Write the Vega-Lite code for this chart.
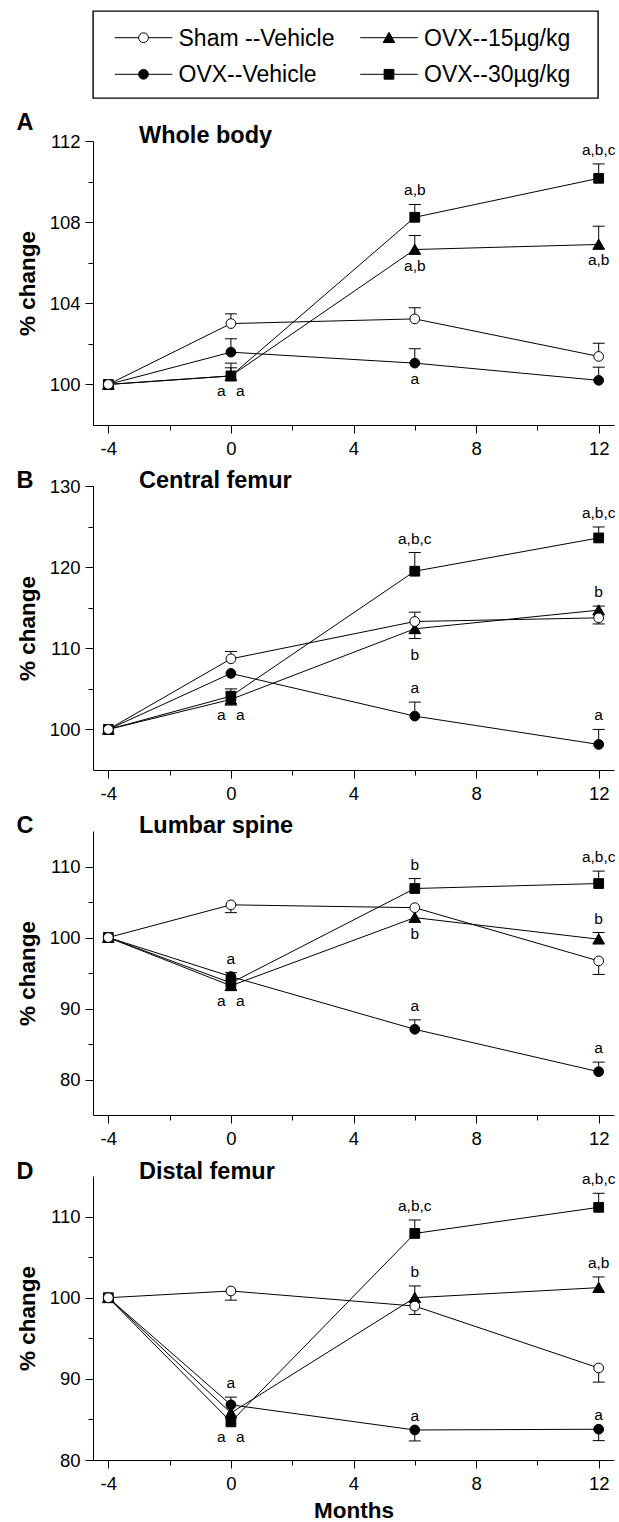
{
  "$schema": "https://vega.github.io/schema/vega-lite/v6.json",
  "padding": {"left": 16, "top": 10, "right": 0, "bottom": 0},
  "bounds": "flush",
  "spacing": 43,
  "config": {
    "font": "Liberation Sans",
    "view": {"stroke": null},
    "axis": {"grid": false, "domainColor": "black", "domainWidth": 1, "tickColor": "black", "tickWidth": 1, "labelColor": "black", "labelFont": "Liberation Sans", "labelFontSize": 18.5, "titleColor": "black", "titleFont": "Liberation Sans", "titleFontSize": 22.5, "titleFontWeight": "bold", "labelFlush": false, "labelOverlap": false},
    "axisY": {"labelPadding": 5, "titlePadding": 10},
    "axisX": {"labelPadding": 6, "titlePadding": 7, "labelAngle": 0},
    "text": {"font": "Liberation Sans", "color": "black"}
  },
  "datasets": {
    "series": [
      {"panel": "A", "group": "OVX--Vehicle", "month": -4, "value": 100},
      {"panel": "A", "group": "OVX--Vehicle", "month": 0, "value": 101.59, "err": 102.25},
      {"panel": "A", "group": "OVX--Vehicle", "month": 6, "value": 101.05, "err": 101.76},
      {"panel": "A", "group": "OVX--Vehicle", "month": 12, "value": 100.2, "err": 100.85},
      {"panel": "A", "group": "OVX--15µg/kg", "month": -4, "value": 100},
      {"panel": "A", "group": "OVX--15µg/kg", "month": 0, "value": 100.42, "err": 101.05},
      {"panel": "A", "group": "OVX--15µg/kg", "month": 6, "value": 106.65, "err": 107.34},
      {"panel": "A", "group": "OVX--15µg/kg", "month": 12, "value": 106.9, "err": 107.8},
      {"panel": "A", "group": "OVX--30µg/kg", "month": -4, "value": 100},
      {"panel": "A", "group": "OVX--30µg/kg", "month": 0, "value": 100.42, "err": 100.82},
      {"panel": "A", "group": "OVX--30µg/kg", "month": 6, "value": 108.24, "err": 108.87},
      {"panel": "A", "group": "OVX--30µg/kg", "month": 12, "value": 110.16, "err": 110.87},
      {"panel": "A", "group": "Sham --Vehicle", "month": -4, "value": 100},
      {"panel": "A", "group": "Sham --Vehicle", "month": 0, "value": 103.0, "err": 103.48},
      {"panel": "A", "group": "Sham --Vehicle", "month": 6, "value": 103.23, "err": 103.78},
      {"panel": "A", "group": "Sham --Vehicle", "month": 12, "value": 101.38, "err": 102.03},

      {"panel": "B", "group": "OVX--Vehicle", "month": -4, "value": 100},
      {"panel": "B", "group": "OVX--Vehicle", "month": 0, "value": 106.9},
      {"panel": "B", "group": "OVX--Vehicle", "month": 6, "value": 101.64, "err": 103.37},
      {"panel": "B", "group": "OVX--Vehicle", "month": 12, "value": 98.15, "err": 100.0},
      {"panel": "B", "group": "OVX--15µg/kg", "month": -4, "value": 100},
      {"panel": "B", "group": "OVX--15µg/kg", "month": 0, "value": 103.7, "err": 103.0},
      {"panel": "B", "group": "OVX--15µg/kg", "month": 6, "value": 112.4, "err": 111.2},
      {"panel": "B", "group": "OVX--15µg/kg", "month": 12, "value": 114.7, "err": 115.2},
      {"panel": "B", "group": "OVX--30µg/kg", "month": -4, "value": 100},
      {"panel": "B", "group": "OVX--30µg/kg", "month": 0, "value": 104.1, "err": 105.0},
      {"panel": "B", "group": "OVX--30µg/kg", "month": 6, "value": 119.5, "err": 121.8},
      {"panel": "B", "group": "OVX--30µg/kg", "month": 12, "value": 123.6, "err": 124.95},
      {"panel": "B", "group": "Sham --Vehicle", "month": -4, "value": 100},
      {"panel": "B", "group": "Sham --Vehicle", "month": 0, "value": 108.7, "err": 109.6},
      {"panel": "B", "group": "Sham --Vehicle", "month": 6, "value": 113.3, "err": 114.45},
      {"panel": "B", "group": "Sham --Vehicle", "month": 12, "value": 113.75, "err": 113.0},

      {"panel": "C", "group": "OVX--Vehicle", "month": -4, "value": 100},
      {"panel": "C", "group": "OVX--Vehicle", "month": 0, "value": 94.5, "err": 95.05},
      {"panel": "C", "group": "OVX--Vehicle", "month": 6, "value": 87.07, "err": 88.4},
      {"panel": "C", "group": "OVX--Vehicle", "month": 12, "value": 81.1, "err": 82.45},
      {"panel": "C", "group": "OVX--15µg/kg", "month": -4, "value": 100},
      {"panel": "C", "group": "OVX--15µg/kg", "month": 0, "value": 93.2, "err": 92.6},
      {"panel": "C", "group": "OVX--15µg/kg", "month": 6, "value": 102.8},
      {"panel": "C", "group": "OVX--15µg/kg", "month": 12, "value": 99.76, "err": 100.7},
      {"panel": "C", "group": "OVX--30µg/kg", "month": -4, "value": 100},
      {"panel": "C", "group": "OVX--30µg/kg", "month": 0, "value": 93.6},
      {"panel": "C", "group": "OVX--30µg/kg", "month": 6, "value": 106.9, "err": 108.3},
      {"panel": "C", "group": "OVX--30µg/kg", "month": 12, "value": 107.6, "err": 109.35},
      {"panel": "C", "group": "Sham --Vehicle", "month": -4, "value": 100},
      {"panel": "C", "group": "Sham --Vehicle", "month": 0, "value": 104.6, "err": 103.5},
      {"panel": "C", "group": "Sham --Vehicle", "month": 6, "value": 104.2},
      {"panel": "C", "group": "Sham --Vehicle", "month": 12, "value": 96.7, "err": 94.8},

      {"panel": "D", "group": "OVX--Vehicle", "month": -4, "value": 100},
      {"panel": "D", "group": "OVX--Vehicle", "month": 0, "value": 86.8, "err": 87.75},
      {"panel": "D", "group": "OVX--Vehicle", "month": 6, "value": 83.7, "err": 82.35},
      {"panel": "D", "group": "OVX--Vehicle", "month": 12, "value": 83.79, "err": 82.39},
      {"panel": "D", "group": "OVX--15µg/kg", "month": -4, "value": 100},
      {"panel": "D", "group": "OVX--15µg/kg", "month": 0, "value": 85.8},
      {"panel": "D", "group": "OVX--15µg/kg", "month": 6, "value": 100.0, "err": 101.45},
      {"panel": "D", "group": "OVX--15µg/kg", "month": 12, "value": 101.24, "err": 102.56},
      {"panel": "D", "group": "OVX--30µg/kg", "month": -4, "value": 100},
      {"panel": "D", "group": "OVX--30µg/kg", "month": 0, "value": 84.7},
      {"panel": "D", "group": "OVX--30µg/kg", "month": 6, "value": 107.92, "err": 109.58},
      {"panel": "D", "group": "OVX--30µg/kg", "month": 12, "value": 111.14, "err": 112.87},
      {"panel": "D", "group": "Sham --Vehicle", "month": -4, "value": 100},
      {"panel": "D", "group": "Sham --Vehicle", "month": 0, "value": 100.83, "err": 99.7},
      {"panel": "D", "group": "Sham --Vehicle", "month": 6, "value": 98.97, "err": 97.94},
      {"panel": "D", "group": "Sham --Vehicle", "month": 12, "value": 91.34, "err": 89.6}
    ],
    "notes": [
      {"panel": "A", "month": 0, "at": 100.42, "label": "a", "pos": "belowleft"},
      {"panel": "A", "month": 0, "at": 100.42, "label": "a", "pos": "belowright"},
      {"panel": "A", "month": 6, "at": 108.87, "label": "a,b", "pos": "above"},
      {"panel": "A", "month": 6, "at": 106.65, "label": "a,b", "pos": "below"},
      {"panel": "A", "month": 6, "at": 101.05, "label": "a", "pos": "below"},
      {"panel": "A", "month": 12, "at": 110.87, "label": "a,b,c", "pos": "above"},
      {"panel": "A", "month": 12, "at": 106.9, "label": "a,b", "pos": "below"},
      {"panel": "B", "month": 0, "at": 103.7, "label": "a", "pos": "belowleft"},
      {"panel": "B", "month": 0, "at": 103.7, "label": "a", "pos": "belowright"},
      {"panel": "B", "month": 6, "at": 121.8, "label": "a,b,c", "pos": "above"},
      {"panel": "B", "month": 6, "at": 111.2, "label": "b", "pos": "below"},
      {"panel": "B", "month": 6, "at": 103.37, "label": "a", "pos": "above"},
      {"panel": "B", "month": 12, "at": 124.95, "label": "a,b,c", "pos": "above"},
      {"panel": "B", "month": 12, "at": 115.2, "label": "b", "pos": "above"},
      {"panel": "B", "month": 12, "at": 100.0, "label": "a", "pos": "above"},
      {"panel": "C", "month": 0, "at": 95.05, "label": "a", "pos": "above"},
      {"panel": "C", "month": 0, "at": 93.2, "label": "a", "pos": "belowleft"},
      {"panel": "C", "month": 0, "at": 93.2, "label": "a", "pos": "belowright"},
      {"panel": "C", "month": 6, "at": 108.3, "label": "b", "pos": "above"},
      {"panel": "C", "month": 6, "at": 102.8, "label": "b", "pos": "below"},
      {"panel": "C", "month": 6, "at": 88.4, "label": "a", "pos": "above"},
      {"panel": "C", "month": 12, "at": 109.35, "label": "a,b,c", "pos": "above"},
      {"panel": "C", "month": 12, "at": 100.7, "label": "b", "pos": "above"},
      {"panel": "C", "month": 12, "at": 82.45, "label": "a", "pos": "above"},
      {"panel": "D", "month": 0, "at": 87.75, "label": "a", "pos": "above"},
      {"panel": "D", "month": 0, "at": 84.7, "label": "a", "pos": "belowleft"},
      {"panel": "D", "month": 0, "at": 84.7, "label": "a", "pos": "belowright"},
      {"panel": "D", "month": 6, "at": 109.58, "label": "a,b,c", "pos": "above"},
      {"panel": "D", "month": 6, "at": 101.45, "label": "b", "pos": "above"},
      {"panel": "D", "month": 6, "at": 83.7, "label": "a", "pos": "above"},
      {"panel": "D", "month": 12, "at": 112.87, "label": "a,b,c", "pos": "above"},
      {"panel": "D", "month": 12, "at": 102.56, "label": "a,b", "pos": "above"},
      {"panel": "D", "month": 12, "at": 83.79, "label": "a", "pos": "above"}
    ],
    "legend": [
      {"group": "Sham --Vehicle", "col": 0, "row": 0},
      {"group": "OVX--15µg/kg", "col": 1, "row": 0},
      {"group": "OVX--Vehicle", "col": 0, "row": 1},
      {"group": "OVX--30µg/kg", "col": 1, "row": 1}
    ]
  },
  "vconcat": [
    {
      "width": 505,
      "height": 87,
      "view": {"stroke": "black", "strokeWidth": 1.4},
      "data": {"name": "legend"},
      "encoding": {
        "x": {"field": "col", "type": "quantitative", "scale": {"domain": [-0.2057, 1.8513], "nice": false, "zero": false}, "axis": null},
        "y": {"field": "row", "type": "quantitative", "scale": {"domain": [-0.7295, 1.6475], "nice": false, "zero": false, "reverse": true}, "axis": null}
      },
      "layer": [
        {"mark": {"type": "point", "shape": "stroke", "size": 3300, "stroke": "black", "strokeWidth": 1, "opacity": 1, "filled": false}},
        {"mark": {"type": "point", "filled": true, "stroke": "black", "strokeWidth": 1, "opacity": 1, "size": 95},
         "encoding": {
           "shape": {"field": "group", "type": "nominal", "scale": {"domain": ["OVX--Vehicle", "OVX--15µg/kg", "OVX--30µg/kg", "Sham --Vehicle"], "range": ["circle", "M0,-1.1L1.2,1L-1.2,1Z", "square", "circle"]}, "legend": null},
           "fill": {"field": "group", "type": "nominal", "scale": {"domain": ["OVX--Vehicle", "OVX--15µg/kg", "OVX--30µg/kg", "Sham --Vehicle"], "range": ["black", "black", "black", "white"]}, "legend": null}
         }},
        {"mark": {"type": "text", "align": "left", "baseline": "middle", "dx": 35, "dy": 1, "fontSize": 23, "font": "Liberation Sans", "color": "black"},
         "encoding": {"text": {"field": "group"}}}
      ]
    },
    {
      "bounds": "flush",
      "spacing": 61,
      "vconcat": [
        {
          "width": 521, "height": 284,
          "layer": [
            {"data": {"name": "series"}, "transform": [{"filter": "datum.panel === 'A'"}],
             "mark": {"type": "line", "color": "black", "strokeWidth": 1},
             "encoding": {
               "x": {"field": "month", "type": "quantitative", "scale": {"domain": [-4.5, 12.5], "nice": false, "zero": false},
                     "axis": {"values": [-4, -2, 0, 2, 4, 6, 8, 10, 12], "labelExpr": "datum.value % 4 === 0 ? toString(datum.value) : ''", "tickSize": {"condition": {"test": "datum.value % 4 === 0", "value": 8}, "value": 5}, "title": null}},
               "y": {"field": "value", "type": "quantitative", "scale": {"domain": [98, 112], "nice": false, "zero": false},
                     "axis": {"values": [100, 102, 104, 106, 108, 110, 112], "labelExpr": "(datum.value - 100) % 4 === 0 ? datum.label : ''", "tickSize": {"condition": {"test": "(datum.value - 100) % 4 === 0", "value": 8}, "value": 5}, "title": "% change"}},
               "detail": {"field": "group", "type": "nominal"}
             }},
            {"data": {"name": "series"}, "transform": [{"filter": "datum.panel === 'A' && isValid(datum.err)"}],
             "mark": {"type": "rule", "color": "black", "strokeWidth": 1},
             "encoding": {"x": {"field": "month", "type": "quantitative"}, "y": {"field": "value", "type": "quantitative"}, "y2": {"field": "err"}}},
            {"data": {"name": "series"}, "transform": [{"filter": "datum.panel === 'A' && isValid(datum.err)"}],
             "mark": {"type": "tick", "orient": "horizontal", "size": 12, "thickness": 1, "color": "black", "opacity": 1},
             "encoding": {"x": {"field": "month", "type": "quantitative"}, "y": {"field": "err", "type": "quantitative"}}},
            {"data": {"name": "series"}, "transform": [{"filter": "datum.panel === 'A'"}],
             "mark": {"type": "point", "filled": true, "stroke": "black", "strokeWidth": 1, "opacity": 1, "size": 95},
             "encoding": {
               "x": {"field": "month", "type": "quantitative"}, "y": {"field": "value", "type": "quantitative"},
               "shape": {"field": "group", "type": "nominal", "scale": {"domain": ["OVX--Vehicle", "OVX--15µg/kg", "OVX--30µg/kg", "Sham --Vehicle"], "range": ["circle", "M0,-1.1L1.2,1L-1.2,1Z", "square", "circle"]}, "legend": null},
               "fill": {"field": "group", "type": "nominal", "scale": {"domain": ["OVX--Vehicle", "OVX--15µg/kg", "OVX--30µg/kg", "Sham --Vehicle"], "range": ["black", "black", "black", "white"]}, "legend": null}
             }},
            {"data": {"name": "notes"}, "transform": [{"filter": "datum.panel === 'A' && datum.pos === 'above'"}],
             "mark": {"type": "text", "align": "center", "baseline": "alphabetic", "dy": -9, "fontSize": 15.5},
             "encoding": {"x": {"field": "month", "type": "quantitative"}, "y": {"field": "at", "type": "quantitative"}, "text": {"field": "label"}}},
            {"data": {"name": "notes"}, "transform": [{"filter": "datum.panel === 'A' && datum.pos === 'below'"}],
             "mark": {"type": "text", "align": "center", "baseline": "alphabetic", "dy": 21, "fontSize": 15.5},
             "encoding": {"x": {"field": "month", "type": "quantitative"}, "y": {"field": "at", "type": "quantitative"}, "text": {"field": "label"}}},
            {"data": {"name": "notes"}, "transform": [{"filter": "datum.panel === 'A' && datum.pos === 'belowleft'"}],
             "mark": {"type": "text", "align": "center", "baseline": "alphabetic", "dx": -9.5, "dy": 20.5, "fontSize": 15.5},
             "encoding": {"x": {"field": "month", "type": "quantitative"}, "y": {"field": "at", "type": "quantitative"}, "text": {"field": "label"}}},
            {"data": {"name": "notes"}, "transform": [{"filter": "datum.panel === 'A' && datum.pos === 'belowright'"}],
             "mark": {"type": "text", "align": "center", "baseline": "alphabetic", "dx": 9.5, "dy": 20.5, "fontSize": 15.5},
             "encoding": {"x": {"field": "month", "type": "quantitative"}, "y": {"field": "at", "type": "quantitative"}, "text": {"field": "label"}}},
            {"data": {"values": [{"name": "Whole body"}]},
             "mark": {"type": "text", "align": "left", "baseline": "alphabetic", "dy": 2, "fontSize": 23.5, "fontWeight": "bold"},
             "encoding": {"x": {"datum": -3, "type": "quantitative"}, "y": {"datum": 112, "type": "quantitative"}, "text": {"field": "name"}}},
            {"data": {"values": [{"letter": "A"}]},
             "mark": {"type": "text", "align": "left", "baseline": "alphabetic", "dy": -10.7, "fontSize": 23.5, "fontWeight": "bold"},
             "encoding": {"x": {"datum": -7, "type": "quantitative"}, "y": {"datum": 112, "type": "quantitative"}, "text": {"field": "letter"}}}
          ]
        },
        {
          "width": 521, "height": 284,
          "layer": [
            {"data": {"name": "series"}, "transform": [{"filter": "datum.panel === 'B'"}],
             "mark": {"type": "line", "color": "black", "strokeWidth": 1},
             "encoding": {
               "x": {"field": "month", "type": "quantitative", "scale": {"domain": [-4.5, 12.5], "nice": false, "zero": false},
                     "axis": {"values": [-4, -2, 0, 2, 4, 6, 8, 10, 12], "labelExpr": "datum.value % 4 === 0 ? toString(datum.value) : ''", "tickSize": {"condition": {"test": "datum.value % 4 === 0", "value": 8}, "value": 5}, "title": null}},
               "y": {"field": "value", "type": "quantitative", "scale": {"domain": [95, 130], "nice": false, "zero": false},
                     "axis": {"values": [100, 105, 110, 115, 120, 125, 130], "labelExpr": "(datum.value - 100) % 10 === 0 ? datum.label : ''", "tickSize": {"condition": {"test": "(datum.value - 100) % 10 === 0", "value": 8}, "value": 5}, "title": "% change"}},
               "detail": {"field": "group", "type": "nominal"}
             }},
            {"data": {"name": "series"}, "transform": [{"filter": "datum.panel === 'B' && isValid(datum.err)"}],
             "mark": {"type": "rule", "color": "black", "strokeWidth": 1},
             "encoding": {"x": {"field": "month", "type": "quantitative"}, "y": {"field": "value", "type": "quantitative"}, "y2": {"field": "err"}}},
            {"data": {"name": "series"}, "transform": [{"filter": "datum.panel === 'B' && isValid(datum.err)"}],
             "mark": {"type": "tick", "orient": "horizontal", "size": 12, "thickness": 1, "color": "black", "opacity": 1},
             "encoding": {"x": {"field": "month", "type": "quantitative"}, "y": {"field": "err", "type": "quantitative"}}},
            {"data": {"name": "series"}, "transform": [{"filter": "datum.panel === 'B'"}],
             "mark": {"type": "point", "filled": true, "stroke": "black", "strokeWidth": 1, "opacity": 1, "size": 95},
             "encoding": {
               "x": {"field": "month", "type": "quantitative"}, "y": {"field": "value", "type": "quantitative"},
               "shape": {"field": "group", "type": "nominal", "scale": {"domain": ["OVX--Vehicle", "OVX--15µg/kg", "OVX--30µg/kg", "Sham --Vehicle"], "range": ["circle", "M0,-1.1L1.2,1L-1.2,1Z", "square", "circle"]}, "legend": null},
               "fill": {"field": "group", "type": "nominal", "scale": {"domain": ["OVX--Vehicle", "OVX--15µg/kg", "OVX--30µg/kg", "Sham --Vehicle"], "range": ["black", "black", "black", "white"]}, "legend": null}
             }},
            {"data": {"name": "notes"}, "transform": [{"filter": "datum.panel === 'B' && datum.pos === 'above'"}],
             "mark": {"type": "text", "align": "center", "baseline": "alphabetic", "dy": -9, "fontSize": 15.5},
             "encoding": {"x": {"field": "month", "type": "quantitative"}, "y": {"field": "at", "type": "quantitative"}, "text": {"field": "label"}}},
            {"data": {"name": "notes"}, "transform": [{"filter": "datum.panel === 'B' && datum.pos === 'below'"}],
             "mark": {"type": "text", "align": "center", "baseline": "alphabetic", "dy": 21, "fontSize": 15.5},
             "encoding": {"x": {"field": "month", "type": "quantitative"}, "y": {"field": "at", "type": "quantitative"}, "text": {"field": "label"}}},
            {"data": {"name": "notes"}, "transform": [{"filter": "datum.panel === 'B' && datum.pos === 'belowleft'"}],
             "mark": {"type": "text", "align": "center", "baseline": "alphabetic", "dx": -9.5, "dy": 20.5, "fontSize": 15.5},
             "encoding": {"x": {"field": "month", "type": "quantitative"}, "y": {"field": "at", "type": "quantitative"}, "text": {"field": "label"}}},
            {"data": {"name": "notes"}, "transform": [{"filter": "datum.panel === 'B' && datum.pos === 'belowright'"}],
             "mark": {"type": "text", "align": "center", "baseline": "alphabetic", "dx": 9.5, "dy": 20.5, "fontSize": 15.5},
             "encoding": {"x": {"field": "month", "type": "quantitative"}, "y": {"field": "at", "type": "quantitative"}, "text": {"field": "label"}}},
            {"data": {"values": [{"name": "Central femur"}]},
             "mark": {"type": "text", "align": "left", "baseline": "alphabetic", "dy": 2, "fontSize": 23.5, "fontWeight": "bold"},
             "encoding": {"x": {"datum": -3, "type": "quantitative"}, "y": {"datum": 130, "type": "quantitative"}, "text": {"field": "name"}}},
            {"data": {"values": [{"letter": "B"}]},
             "mark": {"type": "text", "align": "left", "baseline": "alphabetic", "dy": 2, "fontSize": 23.5, "fontWeight": "bold"},
             "encoding": {"x": {"datum": -7, "type": "quantitative"}, "y": {"datum": 130, "type": "quantitative"}, "text": {"field": "letter"}}}
          ]
        },
        {
          "width": 521, "height": 284,
          "layer": [
            {"data": {"name": "series"}, "transform": [{"filter": "datum.panel === 'C'"}],
             "mark": {"type": "line", "color": "black", "strokeWidth": 1},
             "encoding": {
               "x": {"field": "month", "type": "quantitative", "scale": {"domain": [-4.5, 12.5], "nice": false, "zero": false},
                     "axis": {"values": [-4, -2, 0, 2, 4, 6, 8, 10, 12], "labelExpr": "datum.value % 4 === 0 ? toString(datum.value) : ''", "tickSize": {"condition": {"test": "datum.value % 4 === 0", "value": 8}, "value": 5}, "title": null}},
               "y": {"field": "value", "type": "quantitative", "scale": {"domain": [75, 115], "nice": false, "zero": false},
                     "axis": {"values": [80, 85, 90, 95, 100, 105, 110], "labelExpr": "datum.value % 10 === 0 ? datum.label : ''", "tickSize": {"condition": {"test": "datum.value % 10 === 0", "value": 8}, "value": 5}, "title": "% change"}},
               "detail": {"field": "group", "type": "nominal"}
             }},
            {"data": {"name": "series"}, "transform": [{"filter": "datum.panel === 'C' && isValid(datum.err)"}],
             "mark": {"type": "rule", "color": "black", "strokeWidth": 1},
             "encoding": {"x": {"field": "month", "type": "quantitative"}, "y": {"field": "value", "type": "quantitative"}, "y2": {"field": "err"}}},
            {"data": {"name": "series"}, "transform": [{"filter": "datum.panel === 'C' && isValid(datum.err)"}],
             "mark": {"type": "tick", "orient": "horizontal", "size": 12, "thickness": 1, "color": "black", "opacity": 1},
             "encoding": {"x": {"field": "month", "type": "quantitative"}, "y": {"field": "err", "type": "quantitative"}}},
            {"data": {"name": "series"}, "transform": [{"filter": "datum.panel === 'C'"}],
             "mark": {"type": "point", "filled": true, "stroke": "black", "strokeWidth": 1, "opacity": 1, "size": 95},
             "encoding": {
               "x": {"field": "month", "type": "quantitative"}, "y": {"field": "value", "type": "quantitative"},
               "shape": {"field": "group", "type": "nominal", "scale": {"domain": ["OVX--Vehicle", "OVX--15µg/kg", "OVX--30µg/kg", "Sham --Vehicle"], "range": ["circle", "M0,-1.1L1.2,1L-1.2,1Z", "square", "circle"]}, "legend": null},
               "fill": {"field": "group", "type": "nominal", "scale": {"domain": ["OVX--Vehicle", "OVX--15µg/kg", "OVX--30µg/kg", "Sham --Vehicle"], "range": ["black", "black", "black", "white"]}, "legend": null}
             }},
            {"data": {"name": "notes"}, "transform": [{"filter": "datum.panel === 'C' && datum.pos === 'above'"}],
             "mark": {"type": "text", "align": "center", "baseline": "alphabetic", "dy": -9, "fontSize": 15.5},
             "encoding": {"x": {"field": "month", "type": "quantitative"}, "y": {"field": "at", "type": "quantitative"}, "text": {"field": "label"}}},
            {"data": {"name": "notes"}, "transform": [{"filter": "datum.panel === 'C' && datum.pos === 'below'"}],
             "mark": {"type": "text", "align": "center", "baseline": "alphabetic", "dy": 21, "fontSize": 15.5},
             "encoding": {"x": {"field": "month", "type": "quantitative"}, "y": {"field": "at", "type": "quantitative"}, "text": {"field": "label"}}},
            {"data": {"name": "notes"}, "transform": [{"filter": "datum.panel === 'C' && datum.pos === 'belowleft'"}],
             "mark": {"type": "text", "align": "center", "baseline": "alphabetic", "dx": -9.5, "dy": 20.5, "fontSize": 15.5},
             "encoding": {"x": {"field": "month", "type": "quantitative"}, "y": {"field": "at", "type": "quantitative"}, "text": {"field": "label"}}},
            {"data": {"name": "notes"}, "transform": [{"filter": "datum.panel === 'C' && datum.pos === 'belowright'"}],
             "mark": {"type": "text", "align": "center", "baseline": "alphabetic", "dx": 9.5, "dy": 20.5, "fontSize": 15.5},
             "encoding": {"x": {"field": "month", "type": "quantitative"}, "y": {"field": "at", "type": "quantitative"}, "text": {"field": "label"}}},
            {"data": {"values": [{"name": "Lumbar spine"}]},
             "mark": {"type": "text", "align": "left", "baseline": "alphabetic", "dy": 2, "fontSize": 23.5, "fontWeight": "bold"},
             "encoding": {"x": {"datum": -3, "type": "quantitative"}, "y": {"datum": 115, "type": "quantitative"}, "text": {"field": "name"}}},
            {"data": {"values": [{"letter": "C"}]},
             "mark": {"type": "text", "align": "left", "baseline": "alphabetic", "dy": 2, "fontSize": 23.5, "fontWeight": "bold"},
             "encoding": {"x": {"datum": -7, "type": "quantitative"}, "y": {"datum": 115, "type": "quantitative"}, "text": {"field": "letter"}}}
          ]
        },
        {
          "width": 521, "height": 284,
          "layer": [
            {"data": {"name": "series"}, "transform": [{"filter": "datum.panel === 'D'"}],
             "mark": {"type": "line", "color": "black", "strokeWidth": 1},
             "encoding": {
               "x": {"field": "month", "type": "quantitative", "scale": {"domain": [-4.5, 12.5], "nice": false, "zero": false},
                     "axis": {"values": [-4, -2, 0, 2, 4, 6, 8, 10, 12], "labelExpr": "datum.value % 4 === 0 ? toString(datum.value) : ''", "tickSize": {"condition": {"test": "datum.value % 4 === 0", "value": 8}, "value": 5}, "title": "Months"}},
               "y": {"field": "value", "type": "quantitative", "scale": {"domain": [80, 115], "nice": false, "zero": false},
                     "axis": {"values": [80, 85, 90, 95, 100, 105, 110], "labelExpr": "datum.value % 10 === 0 ? datum.label : ''", "tickSize": {"condition": {"test": "datum.value % 10 === 0", "value": 8}, "value": 5}, "title": "% change"}},
               "detail": {"field": "group", "type": "nominal"}
             }},
            {"data": {"name": "series"}, "transform": [{"filter": "datum.panel === 'D' && isValid(datum.err)"}],
             "mark": {"type": "rule", "color": "black", "strokeWidth": 1},
             "encoding": {"x": {"field": "month", "type": "quantitative"}, "y": {"field": "value", "type": "quantitative"}, "y2": {"field": "err"}}},
            {"data": {"name": "series"}, "transform": [{"filter": "datum.panel === 'D' && isValid(datum.err)"}],
             "mark": {"type": "tick", "orient": "horizontal", "size": 12, "thickness": 1, "color": "black", "opacity": 1},
             "encoding": {"x": {"field": "month", "type": "quantitative"}, "y": {"field": "err", "type": "quantitative"}}},
            {"data": {"name": "series"}, "transform": [{"filter": "datum.panel === 'D'"}],
             "mark": {"type": "point", "filled": true, "stroke": "black", "strokeWidth": 1, "opacity": 1, "size": 95},
             "encoding": {
               "x": {"field": "month", "type": "quantitative"}, "y": {"field": "value", "type": "quantitative"},
               "shape": {"field": "group", "type": "nominal", "scale": {"domain": ["OVX--Vehicle", "OVX--15µg/kg", "OVX--30µg/kg", "Sham --Vehicle"], "range": ["circle", "M0,-1.1L1.2,1L-1.2,1Z", "square", "circle"]}, "legend": null},
               "fill": {"field": "group", "type": "nominal", "scale": {"domain": ["OVX--Vehicle", "OVX--15µg/kg", "OVX--30µg/kg", "Sham --Vehicle"], "range": ["black", "black", "black", "white"]}, "legend": null}
             }},
            {"data": {"name": "notes"}, "transform": [{"filter": "datum.panel === 'D' && datum.pos === 'above'"}],
             "mark": {"type": "text", "align": "center", "baseline": "alphabetic", "dy": -9, "fontSize": 15.5},
             "encoding": {"x": {"field": "month", "type": "quantitative"}, "y": {"field": "at", "type": "quantitative"}, "text": {"field": "label"}}},
            {"data": {"name": "notes"}, "transform": [{"filter": "datum.panel === 'D' && datum.pos === 'below'"}],
             "mark": {"type": "text", "align": "center", "baseline": "alphabetic", "dy": 21, "fontSize": 15.5},
             "encoding": {"x": {"field": "month", "type": "quantitative"}, "y": {"field": "at", "type": "quantitative"}, "text": {"field": "label"}}},
            {"data": {"name": "notes"}, "transform": [{"filter": "datum.panel === 'D' && datum.pos === 'belowleft'"}],
             "mark": {"type": "text", "align": "center", "baseline": "alphabetic", "dx": -9.5, "dy": 20.5, "fontSize": 15.5},
             "encoding": {"x": {"field": "month", "type": "quantitative"}, "y": {"field": "at", "type": "quantitative"}, "text": {"field": "label"}}},
            {"data": {"name": "notes"}, "transform": [{"filter": "datum.panel === 'D' && datum.pos === 'belowright'"}],
             "mark": {"type": "text", "align": "center", "baseline": "alphabetic", "dx": 9.5, "dy": 20.5, "fontSize": 15.5},
             "encoding": {"x": {"field": "month", "type": "quantitative"}, "y": {"field": "at", "type": "quantitative"}, "text": {"field": "label"}}},
            {"data": {"values": [{"name": "Distal femur"}]},
             "mark": {"type": "text", "align": "left", "baseline": "alphabetic", "dy": 3, "fontSize": 23.5, "fontWeight": "bold"},
             "encoding": {"x": {"datum": -3, "type": "quantitative"}, "y": {"datum": 115, "type": "quantitative"}, "text": {"field": "name"}}},
            {"data": {"values": [{"letter": "D"}]},
             "mark": {"type": "text", "align": "left", "baseline": "alphabetic", "dy": 3, "fontSize": 23.5, "fontWeight": "bold"},
             "encoding": {"x": {"datum": -7, "type": "quantitative"}, "y": {"datum": 115, "type": "quantitative"}, "text": {"field": "letter"}}}
          ]
        }
      ]
    }
  ]
}
